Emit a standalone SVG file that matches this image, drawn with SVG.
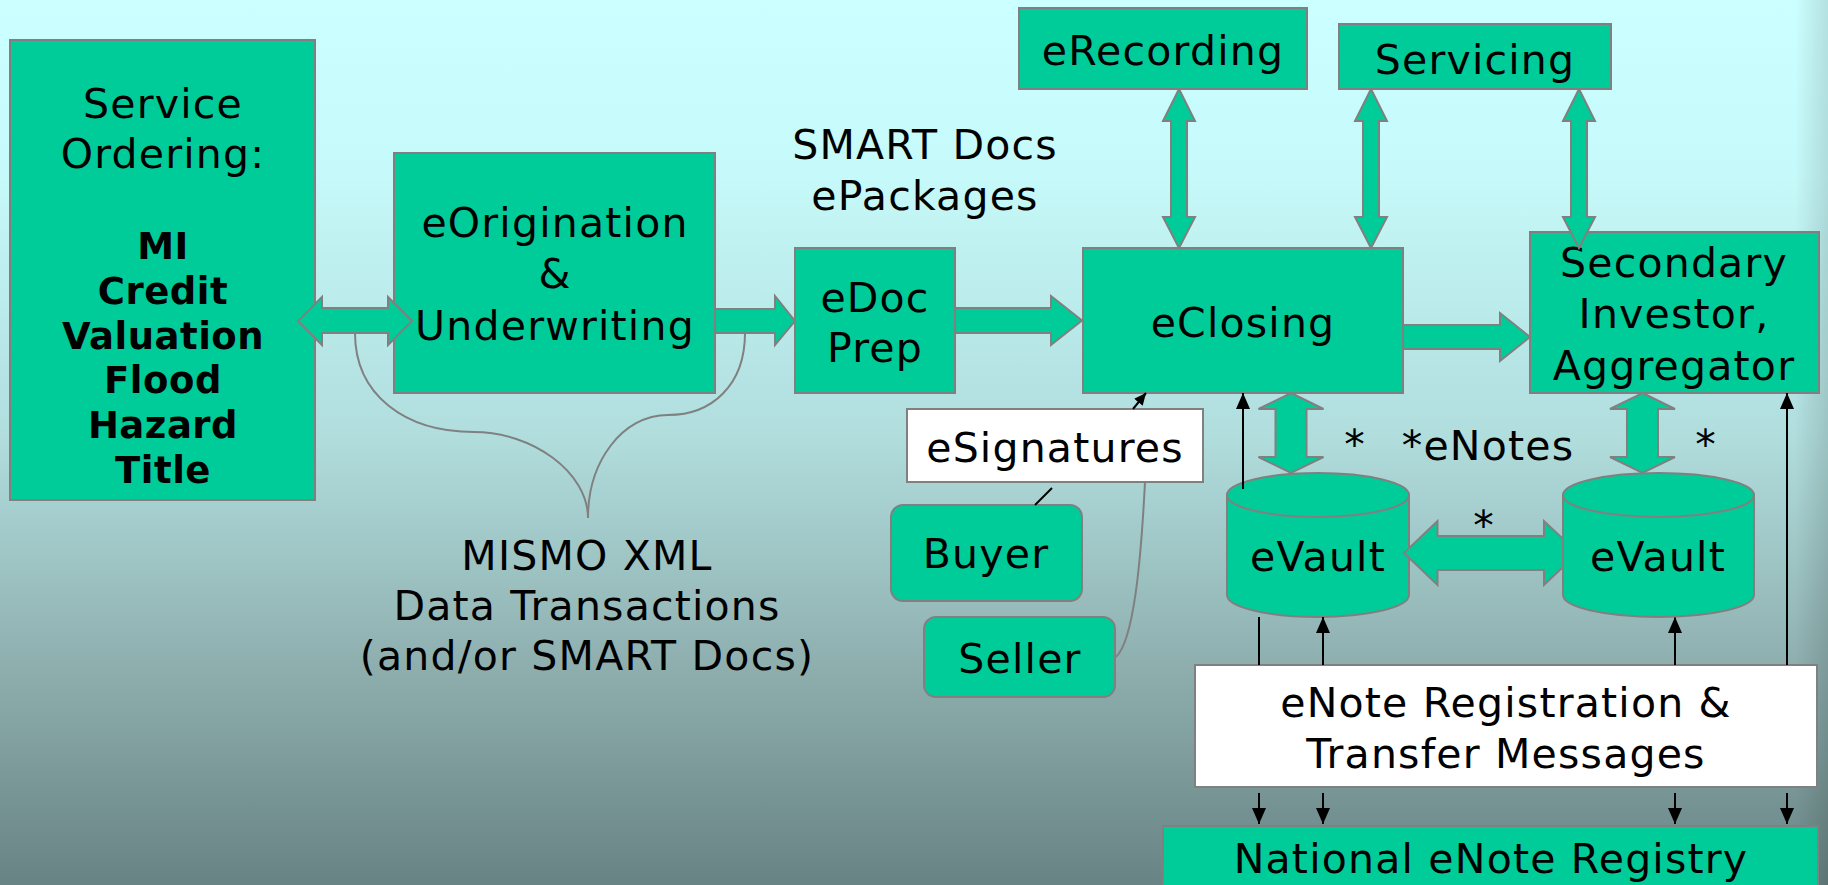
<svg xmlns="http://www.w3.org/2000/svg" width="1828" height="885" viewBox="0 0 1828 885">
<defs>
<linearGradient id="bg" x1="0" y1="0" x2="0" y2="1">
<stop offset="0" stop-color="#CCFFFF"/>
<stop offset="0.2" stop-color="#C6F9F9"/>
<stop offset="0.5" stop-color="#B0DCDC"/>
<stop offset="0.75" stop-color="#8FAFAF"/>
<stop offset="1" stop-color="#688383"/>
</linearGradient>
<linearGradient id="edge" x1="0" y1="0" x2="1" y2="0">
<stop offset="0" stop-color="#000" stop-opacity="0"/>
<stop offset="1" stop-color="#000" stop-opacity="0.12"/>
</linearGradient>
<marker id="ah" markerUnits="userSpaceOnUse" markerWidth="16" markerHeight="14" refX="16" refY="7" orient="auto">
<path d="M0,0 L16,7 L0,14 z" fill="#000"/>
</marker>
<marker id="ahs" markerUnits="userSpaceOnUse" markerWidth="12" markerHeight="11" refX="12" refY="5.5" orient="auto">
<path d="M0,0 L12,5.5 L0,11 z" fill="#000"/>
</marker>
</defs>
<style>
.box{fill:#00CC99;stroke:#808080;stroke-width:2}
.wbox{fill:#FFFFFF;stroke:#808080;stroke-width:2}
.fat{fill:#00CC99;stroke:#808080;stroke-width:2;stroke-linejoin:miter}
.t{font-family:"DejaVu Sans",Verdana,sans-serif;font-size:41px;letter-spacing:1.2px;fill:#000;text-anchor:middle}
.b{font-weight:bold;font-size:37px;letter-spacing:0.5px}
.thin{stroke:#000;stroke-width:2;fill:none}
.gray{stroke:#808080;stroke-width:2;fill:none}
</style>
<rect x="0" y="0" width="1828" height="885" fill="url(#bg)"/>
<rect x="1795" y="0" width="33" height="885" fill="url(#edge)"/>

<g id="service-ordering">
<rect class="box" x="10" y="40" width="305" height="460"/>
<text class="t" x="163" y="118">Service</text>
<text class="t" x="163" y="168">Ordering:</text>
<text class="t b" x="163" y="259">MI</text>
<text class="t b" x="163" y="304">Credit</text>
<text class="t b" x="163" y="349">Valuation</text>
<text class="t b" x="163" y="393">Flood</text>
<text class="t b" x="163" y="438">Hazard</text>
<text class="t b" x="163" y="483">Title</text>
</g>

<g id="eorigination">
<rect class="box" x="394" y="153" width="321" height="240"/>
<text class="t" x="555" y="237">eOrigination</text>
<text class="t" x="555" y="288">&amp;</text>
<text class="t" x="555" y="340">Underwriting</text>
</g>

<g id="smart-docs-label">
<text class="t" x="925" y="159">SMART Docs</text>
<text class="t" x="925" y="210">ePackages</text>
</g>

<g id="mismo-label">
<text class="t" x="587" y="570">MISMO XML</text>
<text class="t" x="587" y="620">Data Transactions</text>
<text class="t" x="587" y="670">(and/or SMART Docs)</text>
</g>

<g id="edocprep">
<rect class="box" x="795" y="248" width="160" height="145"/>
<text class="t" x="875" y="312">eDoc</text>
<text class="t" x="875" y="362">Prep</text>
</g>

<g id="erecording">
<rect class="box" x="1019" y="8" width="288" height="81"/>
<text class="t" x="1163" y="65">eRecording</text>
</g>

<g id="servicing">
<rect class="box" x="1339" y="24" width="272" height="65"/>
<text class="t" x="1475" y="74">Servicing</text>
</g>

<g id="eclosing">
<rect class="box" x="1083" y="248" width="320" height="145"/>
<text class="t" x="1243" y="337">eClosing</text>
</g>

<g id="secondary">
<rect class="box" x="1530" y="232" width="289" height="161"/>
<text class="t" x="1674" y="277">Secondary</text>
<text class="t" x="1674" y="328">Investor,</text>
<text class="t" x="1674" y="380">Aggregator</text>
</g>

<g id="esignatures">
<rect class="wbox" x="907" y="409" width="296" height="73"/>
<text class="t" x="1055" y="462">eSignatures</text>
</g>

<g id="buyer">
<rect class="box" x="891" y="505" width="191" height="96" rx="12" ry="12"/>
<text class="t" x="986" y="568">Buyer</text>
</g>

<g id="seller">
<rect class="box" x="924" y="617" width="191" height="80" rx="12" ry="12"/>
<text class="t" x="1020" y="673">Seller</text>
</g>

<g id="evault-1">
<path class="box" d="M1227 495 L1227 595 A91 22 0 0 0 1409 595 L1409 495 Z"/>
<ellipse class="box" cx="1318" cy="495" rx="91" ry="22"/>
<text class="t" x="1318" y="571">eVault</text>
</g>

<g id="enote-messages">
<rect class="wbox" x="1195" y="665" width="622" height="122"/>
<text class="t" x="1506" y="717">eNote Registration &amp;</text>
<text class="t" x="1506" y="768">Transfer Messages</text>
</g>

<g id="national-registry">
<rect class="box" x="1163" y="826" width="655" height="80"/>
<text class="t" x="1491" y="873">National eNote Registry</text>
</g>

<g id="connectors">
<polygon class="fat" points="298,321 322,297 322,308 388,308 388,297 412,321 388,345 388,333 322,333 322,345"/>
<polygon class="fat" points="715,309 775,309 775,296 795,321 775,345 775,333 715,333"/>
<polygon class="fat" points="955,308 1051,308 1051,296 1082,320.5 1051,345 1051,333 955,333"/>
<polygon class="fat" points="1403,325 1500,325 1500,313 1530,337 1500,361 1500,349 1403,349"/>
<polygon class="fat" points="1179,89 1195,121 1187,121 1187,217 1195,217 1179,248 1163,217 1171,217 1171,121 1163,121"/>
<polygon class="fat" points="1371,89 1387,121 1379,121 1379,217 1387,217 1371,248 1355,217 1363,217 1363,121 1355,121"/>
<polygon class="fat" points="1579,89 1595,121 1587,121 1587,217 1595,217 1579,248 1563,217 1571,217 1571,121 1563,121"/>
<polygon class="fat" points="1291,393 1323.5,409 1306.5,409 1306.5,457 1323.5,457 1291,473 1258.5,457 1275.5,457 1275.5,409 1258.5,409"/>
<polygon class="fat" points="1642.5,393 1675,409 1658,409 1658,457 1675,457 1642.5,473 1610,457 1627,457 1627,409 1610,409"/>
<polygon class="fat" points="1404,553 1437.5,521 1437.5,536 1544,536 1544,521 1578,553 1544,585 1544,570 1437.5,570 1437.5,585"/>
<path class="gray" d="M355 333 C355 395 405 432 474 432 C532 432 588 472 588 518"/>
<path class="gray" d="M745 333 C745 385 712 415 668 415 C622 415 588 462 588 518"/>
<line class="thin" x1="1133" y1="409" x2="1146" y2="393" marker-end="url(#ahs)"/>
<line class="thin" x1="1052" y1="488" x2="1035" y2="505"/>
<path class="gray" d="M1116 657 C1134 640 1141 560 1145 482"/>
<line class="thin" x1="1243" y1="489" x2="1243" y2="393" marker-end="url(#ah)"/>
<line class="thin" x1="1787" y1="665" x2="1787" y2="393" marker-end="url(#ah)"/>
<line class="thin" x1="1259" y1="617" x2="1259" y2="665"/>
<line class="thin" x1="1323" y1="665" x2="1323" y2="617" marker-end="url(#ah)"/>
<line class="thin" x1="1675" y1="665" x2="1675" y2="617" marker-end="url(#ah)"/>
<line class="thin" x1="1259" y1="793" x2="1259" y2="824" marker-end="url(#ah)"/>
<line class="thin" x1="1323" y1="793" x2="1323" y2="824" marker-end="url(#ah)"/>
<line class="thin" x1="1675" y1="793" x2="1675" y2="824" marker-end="url(#ah)"/>
<line class="thin" x1="1787" y1="793" x2="1787" y2="824" marker-end="url(#ah)"/>
</g>

<g id="evault-2">
<path class="box" d="M1563 495 L1563 595 A95.5 22 0 0 0 1754 595 L1754 495 Z"/>
<ellipse class="box" cx="1658.5" cy="495" rx="95.5" ry="22"/>
<text class="t" x="1658" y="571">eVault</text>
</g>

<g id="enote-labels">
<text class="t" x="1355" y="459">*</text>
<text class="t" x="1488" y="460">*eNotes</text>
<text class="t" x="1706" y="459">*</text>
<text class="t" x="1484" y="540">*</text>
</g>
</svg>
